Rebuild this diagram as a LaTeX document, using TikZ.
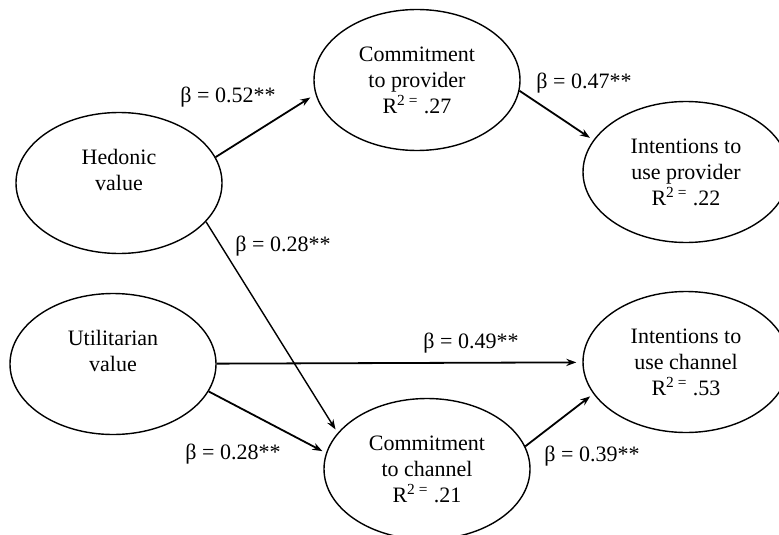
\documentclass[tikz,border=0pt]{standalone}
\usepackage{fontspec}
\setmainfont{Liberation Serif}
\usepackage{tikz}
\usetikzlibrary{arrows.meta,shapes.geometric}

\begin{document}
\begin{tikzpicture}[x=0.5pt,y=-0.5pt,
        construct/.style={ellipse,draw,line width=0.7pt,minimum width=103pt,minimum height=70.5pt,inner sep=0pt,align=center,font=\fontsize{11}{13}\selectfont},
        coef/.style={font=\fontsize{11}{13}\selectfont,inner sep=0pt},
        >={Stealth[length=5pt,width=3.6pt]}]
        \useasboundingbox (0,0) rectangle (779,534);
        \clip (0,0) rectangle (779,534);
        \node[construct] (hed) at (119,183) {Hedonic\\value\\\mbox{}};
        \node[construct] (util) at (113,364) {Utilitarian\\value\\\mbox{}};
        \node[construct] (cprov) at (417,80) {Commitment\\to provider\\R\textsuperscript{2 =} .27};
        \node[construct] (iprov) at (686,172) {Intentions to\\use provider\\R\textsuperscript{2 =} .22};
        \node[construct] (ichan) at (686,362) {Intentions to\\use channel\\R\textsuperscript{2 =} .53};
        \node[construct] (cchan) at (427,469) {Commitment\\to channel\\R\textsuperscript{2 =} .21};
        \draw[->,line width=0.9pt,shorten >=3pt] (hed.15)--(cprov.188);
        \draw[->,line width=0.9pt,shorten >=2pt] (cprov.-6)--(iprov.161);
        \draw[->,line width=0.7pt,shorten >=2pt] (hed.-24)--(cchan.158);
        \draw[->,line width=0.9pt,shorten >=3pt] (util)--(ichan);
        \draw[->,line width=0.9pt,shorten >=2pt] (util.-16)--(cchan.171);
        \draw[->,line width=0.9pt,shorten >=2pt] (cchan.13)--(ichan.-161);
        \node[coef] (b1) at (228,97) {β = 0.52**};
        \node[coef] (b2) at (584,83) {β = 0.47**};
        \node[coef] (b3) at (283,246) {β = 0.28**};
        \node[coef] (b4) at (471,343) {β = 0.49**};
        \node[coef] (b5) at (233,454) {β = 0.28**};
        \node[coef] (b6) at (592,456) {β = 0.39**};
    \end{tikzpicture}
\end{document}
